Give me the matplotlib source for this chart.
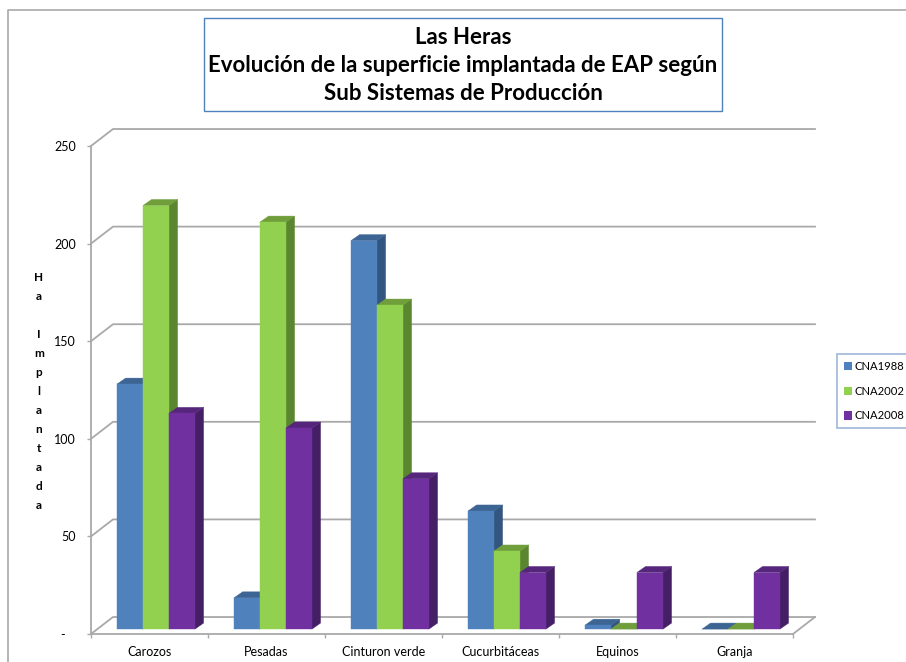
import matplotlib
matplotlib.use('Agg')
import matplotlib.pyplot as plt
from matplotlib.patches import Polygon, Rectangle, Patch
from matplotlib.lines import Line2D

plt.rcParams['font.family'] = ['Lato', 'DejaVu Sans']

# Data
categories = ['Carozos', 'Pesadas', 'Cinturon verde', 'Cucurbitáceas', 'Equinos', 'Granja']
cna1988 = [125.5, 16, 199, 60.5, 2, 0]
cna2002 = [217, 208.5, 166, 40, 0, 0]
cna2008 = [110.5, 103, 77, 29, 29, 29]
series_names = ['CNA1988', 'CNA2002', 'CNA2008']
y_ticks = [0, 50, 100, 150, 200, 250]
y_tick_labels = ['-   ', '50', '100', '150', '200', '250']

front_colors = ['#4f81bd', '#92d050', '#7030a0']
top_colors = ['#3d6594', '#6f9e3a', '#55267c']
side_colors = ['#335680', '#5b8630', '#451f66']
grid_color = '#a9a9a9'

W, H = 906, 662
fig = plt.figure(figsize=(W / 100, H / 100), dpi=100)
ax = fig.add_axes([91 / W, 1 - 634 / H, 702 / W, 488 / H])
ax.set_xlim(0, 6)
ax.set_ylim(0, 250)

# 3D look, offsets in data units
wall_dx, wall_dy = 0.188, 8.7
bar_dx, bar_dy = 0.074, 3.1
bar_w, bar_gap, bar_base = 0.222, 0.222, 2.5

# back wall gridlines
for v in y_ticks:
    ax.plot([0, wall_dx, 6 + wall_dx], [v, v + wall_dy, v + wall_dy],
            color=grid_color, lw=1.3, clip_on=False, zorder=1)
ax.plot([6, 6 + wall_dx], [0, wall_dy], color=grid_color, lw=1.3, clip_on=False, zorder=1)

# bars are drawn left to right so later fronts cover earlier sides
all_values = [cna1988, cna2002, cna2008]
for i in range(len(categories)):
    for s, values in enumerate(all_values):
        v = values[i]
        x0 = i + bar_gap + s * bar_w
        x1 = x0 + bar_w
        y0 = bar_base
        y1 = bar_base + v
        z = 3 + i * 3 + s * 3
        side = [(x1, y0), (x1 + bar_dx, y0 + bar_dy), (x1 + bar_dx, y1 + bar_dy), (x1, y1)]
        top = [(x0, y1), (x0 + bar_dx, y1 + bar_dy), (x1 + bar_dx, y1 + bar_dy), (x1, y1)]
        front = [(x0, y0), (x1, y0), (x1, y1), (x0, y1)]
        ax.add_patch(Polygon(side, fc=side_colors[s], ec=side_colors[s], lw=0.3, clip_on=False, zorder=z))
        ax.add_patch(Polygon(top, fc=top_colors[s], ec=top_colors[s], lw=0.3, clip_on=False, zorder=z + 1))
        if v > 0:
            ax.add_patch(Polygon(front, fc=front_colors[s], ec=front_colors[s], lw=0.3, clip_on=False, zorder=z + 2))

# axes
for name in ['top', 'right']:
    ax.spines[name].set_visible(False)
for name in ['left', 'bottom']:
    ax.spines[name].set_color(grid_color)
    ax.spines[name].set_linewidth(1.3)
ax.patch.set_alpha(0)

ax.set_yticks(y_ticks)
ax.set_yticklabels(y_tick_labels)
ax.tick_params(axis='y', length=3, width=1, color=grid_color, labelsize=9, pad=8, labelcolor='black')
ax.set_xticks(range(7))
ax.set_xticklabels([])
ax.set_xticks([i + 0.5 for i in range(6)], minor=True)
ax.set_xticklabels(categories, minor=True)
ax.tick_params(axis='x', which='major', length=3, width=1, color=grid_color)
ax.tick_params(axis='x', which='minor', length=0, labelsize=9, pad=8.5, labelcolor='black')

# vertical y label, letter by letter
ylabel = '\n'.join('Ha Implantada')
fig.text(39 / W, 1 - 391.5 / H, ylabel, ha='center', va='center', fontsize=8.5,
         fontweight='bold', linespacing=1.88)

# outer frame
fig.add_artist(Line2D([8 / W, 8 / W, 1], [0, 1 - 10 / H, 1 - 10 / H], color=grid_color, lw=1.2))

# title box
fig.add_artist(Rectangle((204 / W, 1 - 110.5 / H), 517.5 / W, 92 / H, transform=fig.transFigure,
                         fc='white', ec='#4f81bd', lw=1))
fig.text(463 / W, 1 - 65.5 / H, 'Las Heras\nEvolución de la superficie implantada de EAP según\nSub Sistemas de Producción',
         ha='center', va='center', fontsize=16, fontweight='bold', linespacing=1.4)

# legend
handles = [Patch(fc=c, ec='none') for c in front_colors]
leg = fig.legend(handles, series_names, loc='upper left', bbox_to_anchor=(837 / W, 1 - 354 / H),
                 borderaxespad=0, fontsize=8.1, frameon=True, fancybox=False, framealpha=1,
                 handlelength=0.72, handleheight=0.72, handletextpad=0.2, labelspacing=1.23,
                 borderpad=0.6)
leg.get_frame().set_edgecolor('#9db8d9')
leg.get_frame().set_linewidth(1.2)

fig.savefig('out.png', dpi=100)
